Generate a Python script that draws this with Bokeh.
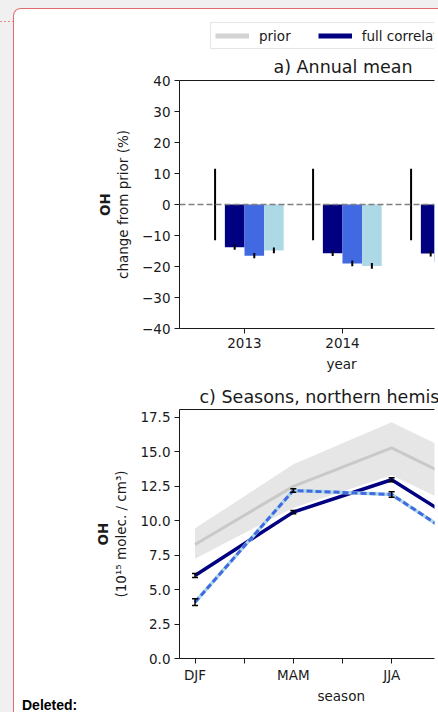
from bokeh.plotting import figure
from bokeh.layouts import column
from bokeh.models import (ColumnDataSource, Div, FixedTicker, Legend, LegendItem,
                          LinearAxis, NumeralTickFormatter, Span, TeeHead, Title, Whisker)
from bokeh.embed import file_html
from bokeh.resources import INLINE

FONT = "DejaVu Sans"
TICK = "13.5px"
TITLE = "17.5px"
INK = "#1a1a1a"

# a) annual mean OH, change from prior (%)
years = [2013, 2014, 2015]
prior_err = [11.5, 11.5, 11.5]
full_corr = [-13.8, -15.7, -15.8]
full_corr_err = [0.8, 0.9, 1.0]
blue_run = [-16.5, -19.0, -18.6]
blue_run_err = [0.85, 0.9, 0.9]
light_run = [-14.8, -19.8, -18.2]
light_run_err = [0.95, 0.9, 0.9]
pct_ticks = [-40, -30, -20, -10, 0, 10, 20, 30, 40]

# c) seasons, northern hemisphere, OH (1e15 molec. / cm3)
seasons = ["DJF", "MAM", "JJA", "SON"]
prior_oh = [8.28, 12.5, 15.3, 11.8]
prior_lo = [7.25, 10.95, 13.3, 9.9]
prior_hi = [9.45, 14.1, 17.15, 13.7]
full_oh = [6.03, 10.63, 12.98, 8.5]
full_oh_err = [0.15, 0.12, 0.15, 0.15]
blue_oh = [4.09, 12.2, 11.91, 7.2]
blue_oh_err = [0.25, 0.12, 0.2, 0.2]
light_oh = [4.09, 12.2, 11.91, 7.2]
oh_ticks = [0.0, 2.5, 5.0, 7.5, 10.0, 12.5, 15.0, 17.5]

W = 424          # inside the comment box
LEFT = 165
RIGHT = 4


def style(p):
    p.xgrid.visible = False
    p.ygrid.visible = False
    p.outline_line_color = None
    p.background_fill_color = "white"
    p.border_fill_color = "white"
    for ax in p.xaxis + p.yaxis:
        ax.axis_line_color = INK
        ax.major_tick_line_color = INK
        ax.major_tick_out = 5
        ax.major_tick_in = 0
        ax.minor_tick_line_color = None
        ax.major_label_text_font = FONT
        ax.major_label_text_font_size = TICK
        ax.major_label_text_color = INK
        ax.major_label_standoff = 4
        ax.axis_label_text_font = FONT
        ax.axis_label_text_font_size = TICK
        ax.axis_label_text_font_style = "normal"
        ax.axis_label_text_color = INK


def top_spine(p):
    p.add_layout(LinearAxis(ticker=FixedTicker(ticks=[]), axis_line_color=INK,
                            major_tick_line_color=None, minor_tick_line_color=None,
                            major_label_text_font_size="1px"), "above")


def side_text(p, text, side, offset=0, standoff=0, bold=False, size=TICK, align="left"):
    p.add_layout(Title(text=text, align=align, offset=offset, standoff=standoff,
                       text_font=FONT, text_font_size=size,
                       text_font_style="bold" if bold else "normal",
                       text_color=INK), side)


def build_legend_strip():
    p = figure(width=W, height=41, x_range=(0, 1), y_range=(0, 1), title=None,
               x_axis_location=None, y_axis_location=None, output_backend="svg",
               toolbar_location=None, min_border=0, min_border_left=LEFT,
               min_border_right=RIGHT)
    p.xgrid.visible = False
    p.ygrid.visible = False
    p.outline_line_color = None
    # series lines fall outside this strip's range, only their swatches show
    sx = list(range(len(seasons)))
    leg_prior = p.line(sx, prior_oh, line_color="#d3d3d3", line_width=5)
    leg_full = p.line(sx, full_oh, line_color="navy", line_width=5)
    legend = Legend(items=[LegendItem(label="prior", renderers=[leg_prior]),
                           LegendItem(label="full correlation", renderers=[leg_full])],
                    location=(31, 1), orientation="horizontal", glyph_width=34,
                    glyph_height=17, label_height=17, label_standoff=10, spacing=27,
                    padding=4, margin=0, border_line_color="#cccccc",
                    background_fill_alpha=0.8, label_text_font=FONT,
                    label_text_font_size=TICK, label_text_color=INK)
    p.add_layout(legend, "center")
    return p


def build_annual_mean():
    p = figure(width=W, height=326, x_range=(2012.337, 2014.939), y_range=(-40, 40),
               title=None, output_backend="svg", toolbar_location=None,
               min_border_left=LEFT, min_border_right=RIGHT, min_border_top=30,
               min_border_bottom=48)
    style(p)
    p.xaxis.ticker = FixedTicker(ticks=years)
    p.yaxis.ticker = FixedTicker(ticks=pct_ticks)
    p.yaxis.major_label_overrides = {t: str(t).replace("-", "\u2212") for t in pct_ticks}
    p.yaxis.axis_label = "change from prior (%)"
    p.yaxis.axis_label_standoff = 8
    top_spine(p)
    side_text(p, "a) Annual mean", "above", offset=94, standoff=8, size=TITLE)
    side_text(p, "OH", "left", bold=True, align="center")
    side_text(p, "year", "below", offset=147, standoff=6)

    p.add_layout(Span(location=0, dimension="width", line_color="gray",
                      line_dash="6 3", line_width=1.6))

    groups = [(-0.1, full_corr, full_corr_err, "navy"),
              (0.1, blue_run, blue_run_err, "royalblue"),
              (0.3, light_run, light_run_err, "lightblue")]
    for off, vals, errs, col in groups:
        xs = [y + off for y in years]
        p.vbar(x=xs, top=vals, width=0.2, color=col, line_color=None)
    for off, vals, errs, col in groups:
        xs = [y + off for y in years]
        p.segment(x0=xs, x1=xs, y0=[v - e for v, e in zip(vals, errs)],
                  y1=[v + e for v, e in zip(vals, errs)], line_color="black", line_width=2)

    xs = [y - 0.3 for y in years]
    p.segment(x0=xs, x1=xs, y0=[-e for e in prior_err], y1=prior_err,
              line_color="black", line_width=2)
    return p


def build_seasons():
    p = figure(width=W, height=334, x_range=(-0.158, 2.436), y_range=(0, 18.08),
               title=None, output_backend="svg", toolbar_location=None,
               min_border_left=LEFT, min_border_right=RIGHT, min_border_top=33,
               min_border_bottom=52)
    style(p)
    sx = list(range(len(seasons)))
    half = [i / 2 for i in range(2 * len(seasons) - 1)]
    p.xaxis.ticker = FixedTicker(ticks=half)
    p.xaxis.major_label_overrides = {h: (seasons[int(h)] if h == int(h) else "") for h in half}
    p.xaxis.axis_label_standoff = 0
    p.xaxis.major_label_standoff = 3
    p.yaxis.ticker = FixedTicker(ticks=oh_ticks)
    p.yaxis.formatter = NumeralTickFormatter(format="0.0")
    p.yaxis.axis_label = "(10\u00b9\u2075 molec. / cm\u00b3)"
    p.yaxis.axis_label_standoff = 8
    top_spine(p)
    side_text(p, "c) Seasons, northern hemisphere", "above", offset=20, standoff=5,
              size=TITLE)
    side_text(p, "OH", "left", bold=True, align="center")
    side_text(p, "season", "below", offset=138, standoff=0)

    p.varea(x=sx, y1=prior_lo, y2=prior_hi, fill_color="#e6e6e6")
    p.line(sx, prior_oh, line_color="#c9c9c9", line_width=3)
    p.line(sx, full_oh, line_color="navy", line_width=3.5)
    p.line(sx, light_oh, line_color="lightblue", line_width=3.5)
    p.line(sx, blue_oh, line_color="royalblue", line_width=3, line_dash="6 3")

    for vals, errs in [(full_oh, full_oh_err), (blue_oh, blue_oh_err)]:
        src = ColumnDataSource(dict(x=sx, lo=[v - e for v, e in zip(vals, errs)],
                                    hi=[v + e for v, e in zip(vals, errs)]))
        p.add_layout(Whisker(source=src, base="x", lower="lo", upper="hi",
                             line_color="black", line_width=1.5, level="overlay",
                             upper_head=TeeHead(size=6, line_color="black", line_width=1.5),
                             lower_head=TeeHead(size=6, line_color="black", line_width=1.5)))
    return p


note = Div(text="<b>Deleted:</b>", width=120, height=14, margin=(-12, 0, 0, 8),
           styles={"font-family": "Liberation Sans, Arial, sans-serif",
                   "font-size": "14px", "line-height": "14px", "color": "black"})

box = column(build_legend_strip(), build_annual_mean(), build_seasons(), note,
             styles={"background-color": "white", "border-left": "1px solid #e06c6c",
                     "border-top": "1px solid #e06c6c", "border-top-left-radius": "8px",
                     "overflow": "hidden"})
p = column(box, styles={"background-color": "#f0f0f0", "padding": "8px 0 0 13px",
                        "background-image": "repeating-linear-gradient(to right, #e68a8a 0 2px, transparent 2px 4px)",
                        "background-size": "13px 1px", "background-position": "0 21px",
                        "background-repeat": "no-repeat"})
open("out.html", "w").write(file_html(p, INLINE))
